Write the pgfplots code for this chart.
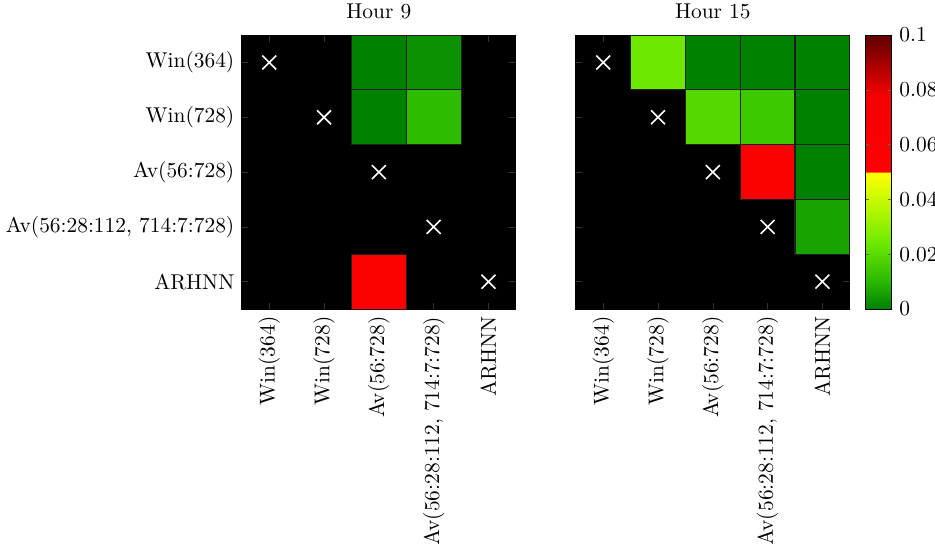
\documentclass[border=0pt]{standalone}
\usepackage{pgfplots}
\pgfplotsset{compat=1.18}
\pgfplotsset{
  colormap={dmtest}{
    rgb255(0)=(0,128,0)
    rgb255(100)=(40,185,0)
    rgb255(250)=(115,235,0)
    rgb255(400)=(200,250,0)
    rgb255(499)=(255,255,0)
    rgb255(500)=(255,0,0)
    rgb255(780)=(245,0,0)
    rgb255(1000)=(95,0,0)
  },
  hm/.style={
    scale only axis, width=128pt, height=128pt,
    xmin=0.5, xmax=5.5, ymin=0.5, ymax=5.5, y dir=reverse,
    axis background/.style={fill=black},
    xtick={1,2,3,4,5}, ytick={1,2,3,4,5},
    xticklabels={\mbox{Win(364)},\mbox{Win(728)},\mbox{Av(56:728)},{\mbox{Av(56:28:112, 714:7:728)}},\mbox{ARHNN}},
    xticklabel style={rotate=90, anchor=east},
    tick style={draw=black!80!white},
    tick align=inside, major tick length=3pt,
    colormap name=dmtest, point meta min=0, point meta max=0.1,
    title style={yshift=-2pt},
  },
  cells/.style={scatter, only marks, mark=square*, mark size=12.8pt,
    scatter/use mapped color={draw=black!88, fill=mapped color, line width=0.5pt}},
  diag/.style={scatter, only marks, mark=x, mark size=4.6pt, point meta=x,
    scatter/use mapped color={draw=white, fill=white, line width=0.75pt}},
}
\pgfplotstableread{
x y p
3 1 0.0
4 1 0.003
3 2 0.0
4 2 0.011
3 5 0.06
}\hourA
\pgfplotstableread{
x y p
2 1 0.024
3 1 0.0
4 1 0.0
5 1 0.0
3 2 0.019
4 2 0.0145
5 2 0.0
4 3 0.06
5 3 0.0
5 4 0.0062
}\hourB
\begin{document}
\begin{tikzpicture}
\begin{axis}[hm, title={Hour 9},
  yticklabels={\mbox{Win(364)},\mbox{Win(728)},\mbox{Av(56:728)},{\mbox{Av(56:28:112, 714:7:728)}},\mbox{ARHNN}}]
\addplot[cells, point meta=\thisrow{p}] table[x=x, y=y] {\hourA};
\addplot[diag] coordinates {(1,1) (2,2) (3,3) (4,4) (5,5)};
\end{axis}
\begin{axis}[hm, xshift=156pt, title={Hour 15}, yticklabels={},
  colorbar, colorbar/width=12.5pt,
  colorbar style={scale only axis, at={(parent axis.north east)}, anchor=north west, xshift=-1.4pt,
    ytick={0,0.02,0.04,0.06,0.08,0.1},
    yticklabels={0,0.02,0.04,0.06,0.08,0.1},
    tick align=inside, major tick length=2pt, tick style={draw=black!60}}]
\addplot[cells, point meta=\thisrow{p}] table[x=x, y=y] {\hourB};
\addplot[diag] coordinates {(1,1) (2,2) (3,3) (4,4) (5,5)};
\end{axis}
\pgfresetboundingbox
\useasboundingbox (-113pt,-109.3pt) rectangle (323.8pt,144.4pt);
\end{tikzpicture}
\end{document}
